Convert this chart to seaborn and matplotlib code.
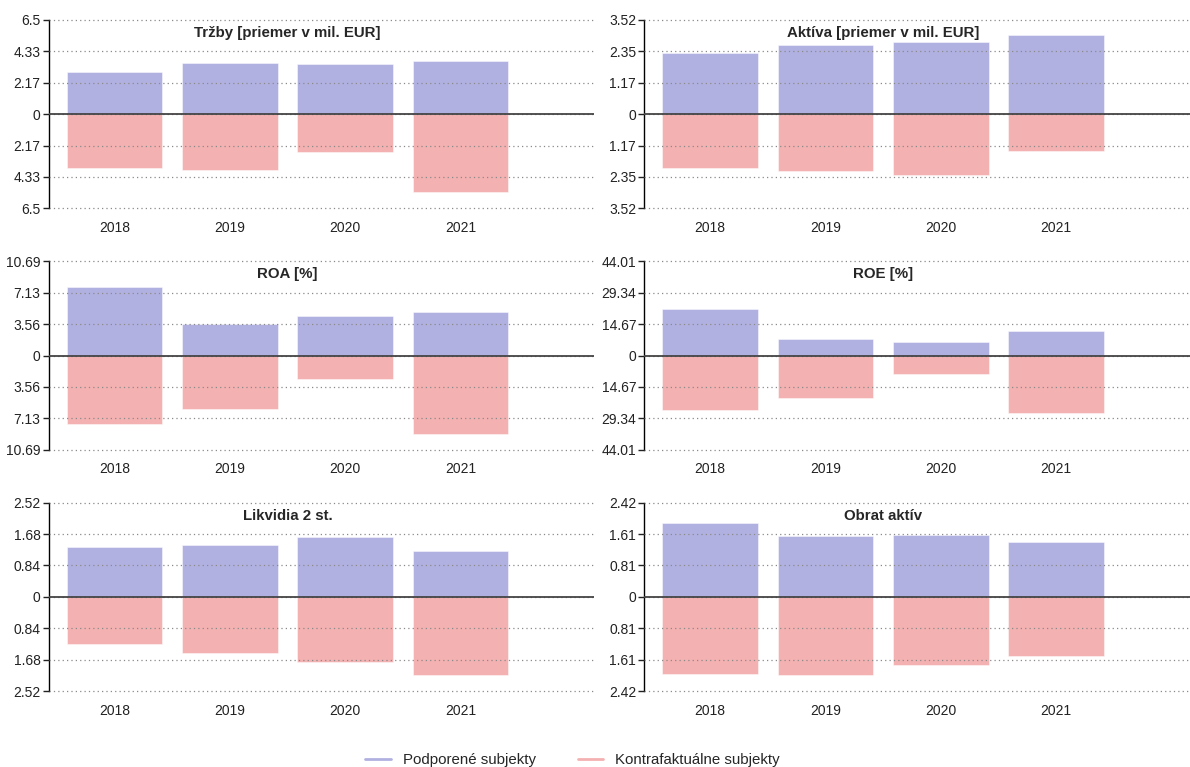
import numpy as np
import pandas as pd
import matplotlib
matplotlib.use("Agg")
import matplotlib.pyplot as plt
import seaborn as sns
from matplotlib.lines import Line2D

# Data
years = ["2018", "2019", "2020", "2021"]
titles = ["Tržby [priemer v mil. EUR]", "Aktíva [priemer v mil. EUR]",
          "ROA [%]", "ROE [%]", "Likvidia 2 st.", "Obrat aktív"]
limits = [6.5, 3.52, 10.69, 44.01, 2.52, 2.42]

supported = [
    [2.93, 3.50, 3.46, 3.64],
    [2.28, 2.57, 2.68, 2.94],
    [7.81, 3.53, 4.44, 4.97],
    [21.8, 7.5, 6.2, 11.5],
    [1.34, 1.38, 1.60, 1.23],
    [1.90, 1.57, 1.58, 1.40],
]
counterfactual = [
    [3.71, 3.84, 2.61, 5.35],
    [2.03, 2.11, 2.28, 1.38],
    [7.73, 6.07, 2.62, 8.87],
    [25.6, 19.7, 8.7, 27.0],
    [1.27, 1.50, 1.75, 2.09],
    [1.98, 2.02, 1.75, 1.53],
]
groups = ["Podporené subjekty", "Kontrafaktuálne subjekty"]

blue = "#6464c4"
red = "#eb6464"

sns.set_style("white")
plt.rcParams["font.family"] = ["Liberation Sans", "DejaVu Sans"]

fig, axes = plt.subplots(3, 2, figsize=(11.9, 7.67), dpi=100)
fig.subplots_adjust(left=0.041, right=1.0, top=0.974, bottom=0.099,
                    wspace=0.092, hspace=0.281)

def fmt(v):
    return f"{abs(v):.2f}".rstrip("0").rstrip(".")

for i, ax in enumerate(axes.flatten()):
    df = pd.DataFrame({
        "year": years * 2,
        "value": supported[i] + [-v for v in counterfactual[i]],
        "group": [groups[0]] * 4 + [groups[1]] * 4,
    })
    sns.barplot(data=df, x="year", y="value", hue="group", dodge=False,
                palette=[blue, red], saturation=1, alpha=0.5, width=0.83,
                ax=ax, legend=False, edgecolor="white", linewidth=0.6,
                errorbar=None)
    lim = limits[i]
    ticks = np.linspace(-lim, lim, 7)
    ax.set_ylim(-lim, lim)
    ax.set_yticks(ticks)
    ax.set_yticklabels([fmt(t) for t in ticks])
    ax.set_xlim(-0.57, 4.16)
    ax.set_axisbelow(False)
    ax.grid(axis="y", linestyle=(0, (1, 2.5)), color="#8a8a8a", linewidth=0.9)
    ax.grid(axis="x", visible=False)
    for gl in ax.get_ygridlines():
        gl.set_clip_on(False)
    ax.axhline(0, color="#444444", linewidth=1.3, zorder=3)
    for s in ["top", "right", "bottom"]:
        ax.spines[s].set_visible(False)
    ax.spines["left"].set_color("black")
    ax.spines["left"].set_linewidth(1.0)
    ax.tick_params(axis="y", length=4, width=1, direction="out", pad=2,
                   labelsize=10, left=True, colors="#222222")
    ax.tick_params(axis="x", length=0, pad=9, labelsize=10, colors="#222222")
    ax.set_xlabel("")
    ax.set_ylabel("")
    ax.text(1.5, 0.93, titles[i], transform=ax.get_xaxis_transform(),
            ha="center", va="center", fontsize=10.8, fontweight="bold")

handles = [Line2D([0], [0], color=blue, alpha=0.5, lw=2),
           Line2D([0], [0], color=red, alpha=0.5, lw=2)]
fig.legend(handles, groups, loc="center", bbox_to_anchor=(0.481, 0.009),
           ncol=2, frameon=False, fontsize=10.8, handlelength=1.7,
           handletextpad=0.8, columnspacing=2.8)

fig.savefig("out.png", dpi=100)
